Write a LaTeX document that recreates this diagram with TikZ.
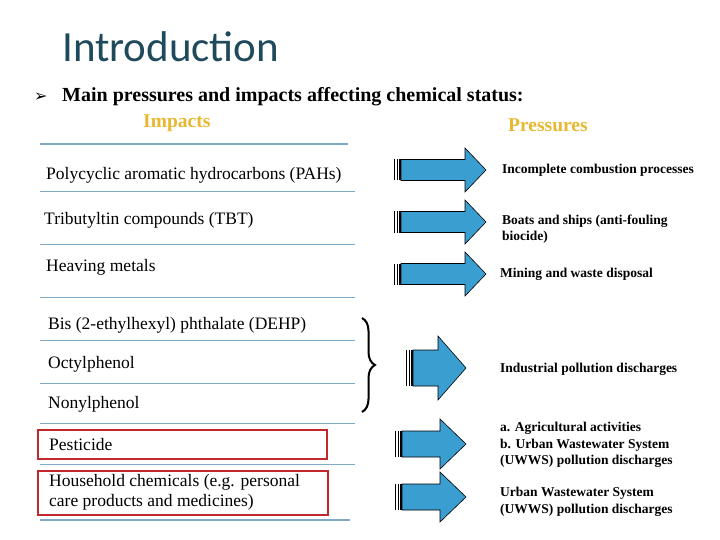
\documentclass[tikz,border=0pt]{standalone}
\usepackage{fontspec}
\setmainfont{Liberation Serif}
\newfontfamily\titlefont{Carlito}
\newfontfamily\symfont{DejaVu Sans}
\newfontfamily\serif{Liberation Serif}
\usetikzlibrary{decorations.pathreplacing}
\definecolor{titlec}{HTML}{1F4A5C}
\definecolor{gold}{HTML}{E8B830}
\definecolor{linec}{HTML}{7FAAC8}
\definecolor{arrowc}{HTML}{3A9FD0}
\definecolor{boxred}{HTML}{C0282C}
\tikzset{
  row/.style={anchor=west,inner sep=0pt,font=\serif\fontsize{17.5}{20}\selectfont},
  press/.style={anchor=west,inner sep=0pt,align=left,font=\serif\bfseries\fontsize{13.5}{16.5}\selectfont},
  sep/.style={draw=linec,line width=1pt},
  hdr/.style={inner sep=0pt,text=gold,font=\serif\bfseries\fontsize{19.5}{21}\selectfont},
  redbox/.style={draw=boxred,line width=1.5pt},
  fat/.style={fill=arrowc,draw=black,line width=0.6pt}
}
\newcommand{\bigarr}[6]{%
  \fill[black] (#1-7,#4-#5) rectangle (#1-6,#4+#5);
  \fill[black] (#1-4.5,#4-#5) rectangle (#1-3.5,#4+#5);
  \fill[black] (#1-2,#4-#5) rectangle (#1,#4+#5);
  \draw[fat] (#1,#4-#5) -- (#2,#4-#5) -- (#2,#4-#6) -- (#3,#4) -- (#2,#4+#6) -- (#2,#4+#5) -- (#1,#4+#5) -- cycle;}
\begin{document}
\begin{tikzpicture}[x=1pt,y=-1pt]
\useasboundingbox[fill=white] (0,0) rectangle (720,540);
\node[anchor=west,inner sep=0pt,text=titlec,font=\titlefont\fontsize{43}{46}\selectfont] (title) at (62,47) {Introduction};
\node[anchor=west,inner sep=0pt,font=\symfont\fontsize{16}{17}\selectfont] (bul) at (34,97) {➢};
\node[anchor=west,inner sep=0pt,font=\serif\bfseries\fontsize{20}{22}\selectfont] (main) at (62,97) {Main pressures and impacts affecting chemical status:};
\node[hdr,anchor=west] (imp) at (143,123) {Impacts};
\node[hdr,anchor=west] (pre) at (508,125) {Pressures};
\draw[draw=linec,line width=2.5pt] (40,144) -- (348,144);
\foreach \y in {192,244,297,340,383,423,464}{\draw[sep] (40,\y) -- (355,\y);}
\draw[draw=linec,line width=2.5pt] (40,520) -- (350,520);
\node[row] (r1) at (46,175) {Polycyclic aromatic hydrocarbons (PAHs)};
\node[row] (r2) at (44,220) {Tributyltin compounds (TBT)};
\node[row] (r3) at (46,267) {Heaving metals};
\node[row] (r4) at (48,325) {Bis (2-ethylhexyl) phthalate (DEHP)};
\node[row] (r5) at (48,364) {Octylphenol};
\node[row] (r6) at (48,404) {Nonylphenol};
\node[row] (r7) at (49,445) {Pesticide};
\node[row,align=left,font=\serif\fontsize{17.5}{20}\selectfont] (r8) at (49,492) {Household chemicals (e.g. personal\\care products and medicines)};
\draw[redbox] (38,430) rectangle (327,459);
\draw[redbox] (38,471) rectangle (328,515);
\draw[decorate,decoration={brace,amplitude=13pt},line width=2pt] (362,318) -- (362,412);
\bigarr{401}{465}{486}{170}{10.5}{22}
\bigarr{401}{465}{486}{222}{10.5}{22}
\bigarr{401}{465}{486}{274}{10.5}{22}
\bigarr{413}{438}{466}{368}{18}{32}
\bigarr{402}{440}{466}{444}{13}{25}
\bigarr{402}{440}{466}{497}{13}{25}
\node[press] (p1) at (502,170) {Incomplete combustion processes};
\node[press] (p2) at (502,229) {Boats and ships (anti-fouling\\biocide)};
\node[press] (p3) at (500,274) {Mining and waste disposal};
\node[press] (p4) at (500,369) {Industrial pollution discharges};
\node[press] (p5) at (500,445) {a. Agricultural activities\\b. Urban Wastewater System\\(UWWS) pollution discharges};
\node[press] (p6) at (500,502) {Urban Wastewater System\\(UWWS) pollution discharges};
\end{tikzpicture}
\end{document}
